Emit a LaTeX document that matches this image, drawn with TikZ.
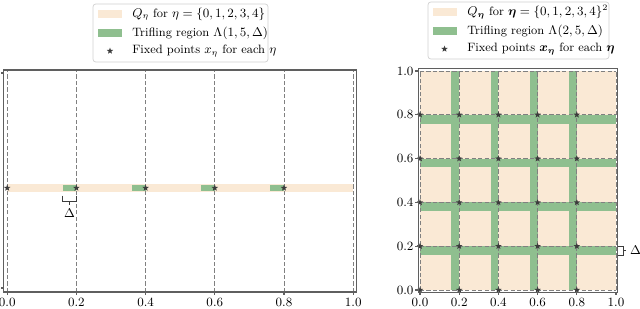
\documentclass[tikz,border=0pt]{standalone}
\usepackage{amsmath,bm}
\usetikzlibrary{shapes.geometric}
\definecolor{qfill}{RGB}{250,233,213}
\definecolor{trifle}{RGB}{143,191,143}
\definecolor{gridgray}{RGB}{128,128,128}
\definecolor{axisgray}{RGB}{95,95,95}
\definecolor{ink}{RGB}{60,60,60}
\newcommand{\plotfont}{\fontsize{8.6}{10}\selectfont}
\tikzset{
  frame/.style={draw=axisgray,line width=0.75pt},
  guide/.style={draw=gridgray,dash pattern=on 3pt off 1.6pt,line width=0.6pt},
  fixpt/.style={star,star points=5,star point ratio=2.4,fill=ink,draw=none,
    inner sep=0pt,minimum size=4.8pt},
  ticklab/.style={font=\plotfont,inner sep=1pt},
  legbox/.style={draw=black!18,fill=white,rounded corners=2pt,line width=0.5pt},
  legtext/.style={font=\plotfont,anchor=west,inner sep=0pt},
  patch/.style={fill=#1,minimum width=6mm,minimum height=2mm,inner sep=0pt},
  patch/.default=qfill,
  brace/.style={draw=ink,line width=0.6pt},
}

\begin{document}
\begin{tikzpicture}
  \useasboundingbox (0,0) rectangle (16,7.7);

  % left panel: one dimension
  \begin{scope}[shift={(0.18,0)},x=8.65cm,y=1cm]
    \fill[qfill] (0,2.9) rectangle (1,3.1);
    \foreach \k in {0.2,0.4,0.6,0.8}
      \fill[trifle] ({\k-0.04},2.92) rectangle (\k,3.08);
    \foreach \k in {0,0.2,0.4,0.6,0.8,1}
      \draw[guide] (\k,0.4) -- (\k,5.95);
    \foreach \i in {0,...,4}
      \node[fixpt] (p\i) at (0.2*\i,3.0) {};
    \draw[frame] (-0.01,0.4) rectangle (1.01,5.95);
    \foreach \y in {0.5,5.875}
      \draw[frame] (-0.01,\y) -- ++(-0.07cm,0);
    \foreach \k/\t [count=\i] in {0/0.0,0.2/0.2,0.4/0.4,0.6/0.6,0.8/0.8,1/1.0}{
      \draw[frame] (\k,0.4) -- ++(0,-0.07cm);
      \node[ticklab] (lx\i) at (\k,0.13) {$\t$};
    }
    % width of the trifling strip
    \draw[brace] (0.16,2.81) -- (0.16,2.67) -- (0.2,2.67) -- (0.2,2.81)
      (0.18,2.67) -- (0.18,2.58);
    \node[font=\plotfont,inner sep=0pt] (dl) at (0.18,2.38) {$\Delta$};
  \end{scope}

  % right panel: two dimensions
  \begin{scope}[shift={(10.5,0.45)},x=4.9cm,y=5.475cm]
    \fill[qfill] (0,0) rectangle (1,1);
    \foreach \k in {0.2,0.4,0.6,0.8}{
      \fill[trifle] ({\k-0.04},0) rectangle (\k,1);
      \fill[trifle] (0,{\k-0.04}) rectangle (1,\k);
    }
    \foreach \k in {0,0.2,0.4,0.6,0.8,1}{
      \draw[guide] (\k,0) -- (\k,1);
      \draw[guide] (0,\k) -- (1,\k);
    }
    \foreach \i in {0,...,4}
      \foreach \j in {0,...,4}
        \node[fixpt] (q\i\j) at (0.2*\i,0.2*\j) {};
    \draw[frame] (-0.01,-0.01) rectangle (1.01,1.01);
    \foreach \k/\t [count=\i] in {0/0.0,0.2/0.2,0.4/0.4,0.6/0.6,0.8/0.8,1/1.0}{
      \draw[frame] (\k,-0.01) -- ++(0,-0.07cm);
      \draw[frame] (-0.01,\k) -- ++(-0.07cm,0);
      \node[ticklab] (rx\i) at (\k,-0.058) {$\t$};
      \node[ticklab,anchor=east] (ry\i) at (-0.025,\k) {$\t$};
    }
    % width of the trifling strip
    \draw[brace] (1.01,0.2) -- (1.036,0.2) -- (1.036,0.16) -- (1.01,0.16)
      (1.036,0.18) -- (1.05,0.18);
    \node[font=\plotfont,anchor=west,inner sep=0pt] (dr) at (1.07,0.18) {$\Delta$};
  \end{scope}

  % legends
  \node[legbox,minimum width=4.375cm,minimum height=1.45cm] (legL) at (4.5125,6.875) {};
  \node[patch] (lq) at (2.75,7.35) {};
  \node[patch=trifle] (lt) at (2.75,6.875) {};
  \node[fixpt] (ls) at (2.75,6.425) {};
  \node[legtext] (tq) at (3.3,7.35) {$Q_\eta$ for $\eta=\{0,1,2,3,4\}$};
  \node[legtext] (tt) at (3.3,6.875) {Trifling region $\Lambda(1,5,\Delta)$};
  \node[legtext] (ts) at (3.3,6.425) {Fixed points $x_\eta$ for each $\eta$};

  \node[legbox,minimum width=4.525cm,minimum height=1.425cm] (legR) at (12.9625,6.9375) {};
  \node[patch] (rq) at (11.1125,7.4) {};
  \node[patch=trifle] (rt) at (11.1125,6.925) {};
  \node[fixpt] (rs) at (11.1125,6.475) {};
  \node[legtext] (uq) at (11.675,7.4) {$Q_{\bm\eta}$ for $\bm\eta=\{0,1,2,3,4\}^2$};
  \node[legtext] (ut) at (11.675,6.925) {Trifling region $\Lambda(2,5,\Delta)$};
  \node[legtext] (us) at (11.675,6.475) {Fixed points $\bm{x}_{\bm\eta}$ for each $\bm\eta$};
\end{tikzpicture}
\end{document}
